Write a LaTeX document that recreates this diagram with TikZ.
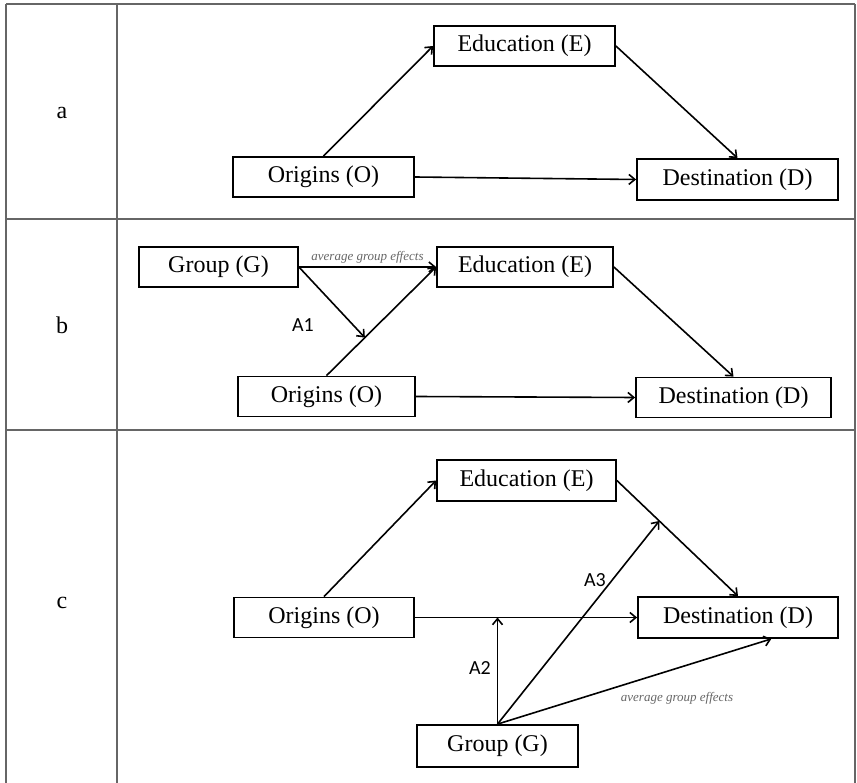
\documentclass[tikz,border=0pt]{standalone}
\usepackage{fontspec}
\setmainfont{Liberation Serif}
\newfontfamily\carlito{Carlito}
\usetikzlibrary{positioning}
\usetikzlibrary{calc}
\usetikzlibrary{arrows.meta}

\begin{document}
\begin{tikzpicture}[x=1pt,y=-1pt,
box/.style={draw,line width=1.8pt,inner sep=0pt,minimum height=40pt,font=\fontsize{24}{28}\selectfont},
arr/.style={-{Straight Barb[length=6pt,width=10pt]},line width=1.6pt},
rowlab/.style={font=\fontsize{24}{28}\selectfont},
alab/.style={font=\carlito\fontsize{20}{22}\selectfont},
eff/.style={font=\itshape\fontsize{13}{15}\selectfont,text=black!60},
tabline/.style={line width=1.6pt,draw=black!60}]
\useasboundingbox (0,0) rectangle (857,783);
\draw[tabline] (6,4) -- (855,4);
\draw[tabline] (6,219) -- (855,219);
\draw[tabline] (6,430) -- (855,430);
\draw[tabline] (6,4) -- (6,783);
\draw[tabline] (117,4) -- (117,783);
\draw[tabline] (855,4) -- (855,783);
\node[rowlab] (la) at (62,113) {a};
\node[rowlab] (lb) at (62,325) {b};
\node[rowlab] (lc) at (62,603) {c};

\node[box,minimum width=181pt] (Ea) at (524.5,46) {Education (E)};
\node[box,minimum width=181pt] (Oa) at (323.5,177) {Origins (O)};
\node[box,minimum width=201pt,minimum height=41pt] (Da) at (737.5,179.5) {Destination (D)};
\draw[arr] (Oa.north) -- (Ea.west);
\draw[arr] (Ea.east) -- (Da.north);
\draw[arr] (Oa.east) -- (Da.west);

\node[box,minimum width=159pt] (Gb) at (218.5,267) {Group (G)};
\node[box,minimum width=176pt] (Eb) at (525,267) {Education (E)};
\node[box,minimum width=177pt] (Ob) at (326.5,396.5) {Origins (O)};
\node[box,minimum width=195pt] (Db) at (733.5,397.5) {Destination (D)};
\coordinate (a1) at ($(Ob.north)!0.35!(Eb.west)$);
\draw[arr] (Gb.east) -- node[eff,above] {average group effects} (Eb.west);
\draw[arr] (Ob.north) -- (Eb.west);
\draw[arr] (Gb.east) -- (a1);
\node[alab] (A1) at (303,325) {A1};
\draw[arr] (Eb.east) -- (Db.north);
\draw[arr] (Ob.east) -- (Db.west);

\node[box,minimum width=179pt,minimum height=41pt] (Ec) at (526.5,480.5) {Education (E)};
\node[box,minimum width=180pt] (Oc) at (324,617.5) {Origins (O)};
\node[box,minimum width=200pt,minimum height=41pt] (Dc) at (738,617.5) {Destination (D)};
\node[box,minimum width=161pt,minimum height=42pt] (Gc) at (497.5,746) {Group (G)};
\coordinate (a2) at (Gc.north |- Oc.east);
\coordinate (a3) at ($(Ec.east)!0.35!(Dc.north)$);
\coordinate (ge) at ($(Dc.south)!0.33!(Dc.south east)$);
\draw[arr] (Oc.north) -- (Ec.west);
\draw[arr] (Ec.east) -- (Dc.north);
\draw[arr] (Oc.east) -- (Dc.west);
\draw[arr] (Gc.north) -- (a2);
\draw[arr] (Gc.north) -- (a3);
\draw[arr] (Gc.north) -- (ge);
\node[alab] (A2) at (480,668) {A2};
\node[alab] (A3) at (595,580) {A3};
\node[eff] (avc) at (677,698) {average group effects};
\end{tikzpicture}
\end{document}
